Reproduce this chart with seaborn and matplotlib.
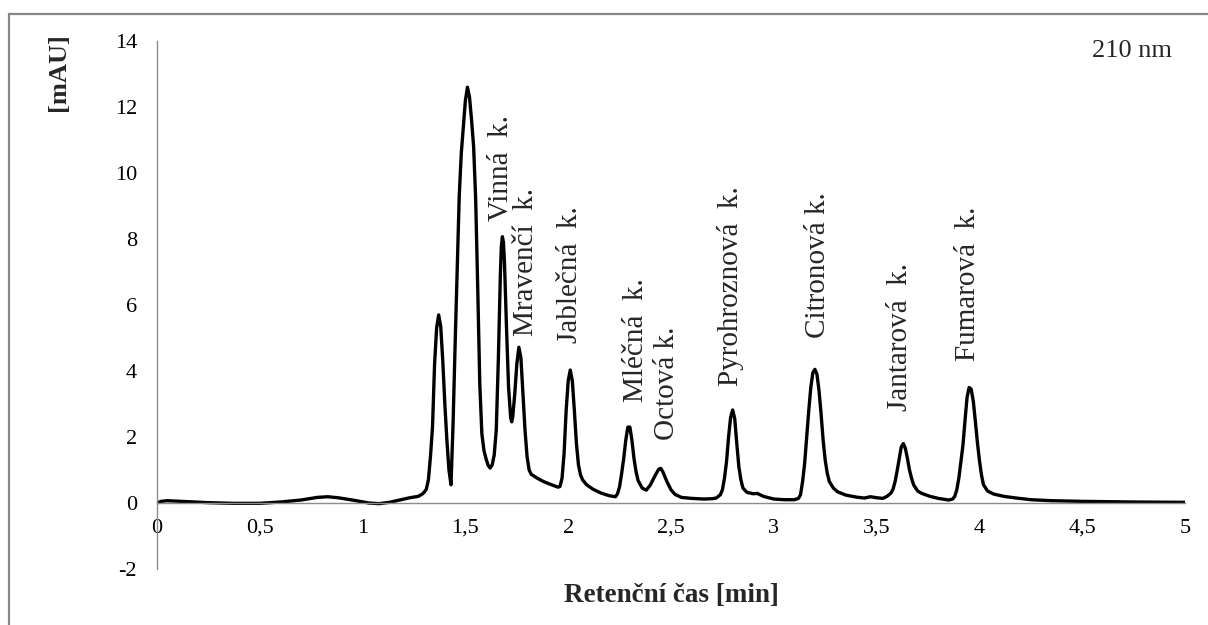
import matplotlib
matplotlib.use("Agg")
import matplotlib.pyplot as plt
from matplotlib.lines import Line2D
import seaborn as sns
import pandas as pd

# Chromatogram trace: retention time [min] and detector response [mAU]
retention_time = [
    0.00, 0.02, 0.05, 0.15, 0.25, 0.37, 0.50, 0.60, 0.70, 0.78, 0.83, 0.88,
    0.96, 1.03, 1.08, 1.13, 1.18, 1.23, 1.27, 1.29, 1.30, 1.31, 1.32, 1.33,
    1.34, 1.35, 1.36, 1.37, 1.38, 1.39, 1.40, 1.41, 1.42, 1.43, 1.44, 1.45,
    1.46, 1.47, 1.48, 1.49, 1.50, 1.51, 1.52, 1.53, 1.54, 1.55, 1.56, 1.57,
    1.58, 1.59, 1.60, 1.61, 1.62, 1.63, 1.64, 1.65, 1.66, 1.67, 1.675, 1.68,
    1.685, 1.69, 1.70, 1.71, 1.72, 1.725, 1.73, 1.74, 1.75, 1.76, 1.77, 1.78,
    1.79, 1.80, 1.81, 1.82, 1.85, 1.88, 1.92, 1.95, 1.96, 1.97, 1.98, 1.99,
    2.00, 2.01, 2.02, 2.03, 2.04, 2.05, 2.06, 2.07, 2.09, 2.12, 2.16, 2.20,
    2.23, 2.24, 2.25, 2.26, 2.27, 2.28, 2.29, 2.30, 2.31, 2.32, 2.33, 2.34,
    2.36, 2.38, 2.40, 2.42, 2.44, 2.45, 2.46, 2.48, 2.50, 2.52, 2.55, 2.60,
    2.66, 2.70, 2.72, 2.74, 2.75, 2.76, 2.77, 2.78, 2.79, 2.80, 2.81, 2.82,
    2.83, 2.84, 2.85, 2.87, 2.90, 2.92, 2.95, 3.00, 3.05, 3.10, 3.12, 3.13,
    3.14, 3.15, 3.16, 3.17, 3.18, 3.19, 3.20, 3.21, 3.22, 3.23, 3.24, 3.25,
    3.26, 3.27, 3.29, 3.31, 3.35, 3.40, 3.44, 3.47, 3.50, 3.53, 3.55, 3.57,
    3.58, 3.59, 3.60, 3.61, 3.62, 3.63, 3.64, 3.65, 3.66, 3.67, 3.68, 3.70,
    3.72, 3.76, 3.80, 3.85, 3.87, 3.88, 3.89, 3.90, 3.91, 3.92, 3.93, 3.94,
    3.95, 3.96, 3.97, 3.98, 3.99, 4.00, 4.01, 4.02, 4.04, 4.07, 4.12, 4.18,
    4.25, 4.35, 4.50, 4.75, 5.00,
]
response = [
    0.00, 0.05, 0.07, 0.04, 0.01, -0.01, -0.01, 0.03, 0.09, 0.17, 0.19, 0.16,
    0.08, 0.00, -0.02, 0.02, 0.09, 0.16, 0.20, 0.27, 0.33, 0.42, 0.70, 1.40,
    2.30, 4.20, 5.30, 5.70, 5.35, 4.30, 3.00, 1.90, 1.00, 0.55, 2.40, 4.80,
    7.06, 9.30, 10.60, 11.40, 12.20, 12.60, 12.30, 11.60, 10.80, 9.20, 6.50, 3.60,
    2.10, 1.60, 1.35, 1.15, 1.06, 1.15, 1.45, 2.20, 4.30, 6.90, 7.80, 8.07,
    7.90, 7.30, 5.30, 3.50, 2.60, 2.46, 2.60, 3.30, 4.20, 4.72, 4.40, 3.30,
    2.20, 1.40, 1.00, 0.87, 0.75, 0.65, 0.55, 0.48, 0.50, 0.75, 1.50, 2.80,
    3.70, 4.03, 3.70, 2.80, 1.80, 1.15, 0.85, 0.70, 0.55, 0.42, 0.30, 0.22,
    0.19, 0.28, 0.50, 0.90, 1.35, 1.90, 2.30, 2.30, 1.90, 1.35, 0.95, 0.68,
    0.45, 0.39, 0.55, 0.80, 1.02, 1.05, 0.95, 0.65, 0.40, 0.26, 0.17, 0.14,
    0.12, 0.13, 0.15, 0.25, 0.40, 0.75, 1.25, 2.00, 2.60, 2.82, 2.55, 1.80,
    1.10, 0.70, 0.45, 0.32, 0.28, 0.29, 0.20, 0.12, 0.10, 0.10, 0.14, 0.25,
    0.65, 1.20, 2.00, 2.80, 3.50, 3.95, 4.05, 3.90, 3.40, 2.70, 1.90, 1.30,
    0.90, 0.65, 0.45, 0.34, 0.24, 0.18, 0.15, 0.19, 0.16, 0.14, 0.20, 0.30,
    0.42, 0.65, 0.98, 1.35, 1.70, 1.80, 1.65, 1.35, 1.00, 0.75, 0.55, 0.36,
    0.29, 0.20, 0.14, 0.09, 0.12, 0.20, 0.40, 0.75, 1.25, 1.75, 2.50, 3.20,
    3.50, 3.45, 3.10, 2.50, 1.85, 1.30, 0.85, 0.55, 0.36, 0.27, 0.20, 0.15,
    0.10, 0.07, 0.05, 0.03, 0.02,
]

# Identified acids
peak_names = [
    "Vinná  k.", "Mravenčí  k.", "Jablečná  k.", "Mléčná  k.", "Octová k.",
    "Pyrohroznová  k.", "Citronová k.", "Jantarová  k.", "Fumarová  k.",
]
# Where each name sits (x centre, lower end of the rotated text) in data units
label_anchor = [
    (1.673, 8.55), (1.795, 5.05), (2.009, 4.85), (2.330, 3.05), (2.480, 1.90),
    (2.790, 3.55), (3.215, 5.00), (3.614, 2.80), (3.945, 4.30),
]

x_ticks = [0, 0.5, 1, 1.5, 2, 2.5, 3, 3.5, 4, 4.5, 5]
x_tick_labels = ["0", "0,5", "1", "1,5", "2", "2,5", "3", "3,5", "4", "4,5", "5"]
y_ticks = [-2, 0, 2, 4, 6, 8, 10, 12, 14]

sns.set_style("white")
plt.rcParams["font.family"] = ["Liberation Serif", "DejaVu Serif"]
plt.rcParams["axes.unicode_minus"] = False

W, H = 1208, 625
fig = plt.figure(figsize=(W / 100, H / 100), dpi=100)
ax = fig.add_axes([157 / W, 1 - 569 / H, (1185 - 157) / W, (569 - 41) / H])

df = pd.DataFrame({"t": retention_time, "mAU": response})
sns.lineplot(data=df, x="t", y="mAU", ax=ax, color="black", linewidth=2.4,
             estimator=None, sort=False)
for ln in ax.lines:
    ln.set_solid_joinstyle("round")
    ln.set_solid_capstyle("round")

ax.set_xlim(0, 5)
ax.set_ylim(-2, 14)

axis_grey = "#8c8c8c"
ax.spines["top"].set_visible(False)
ax.spines["right"].set_visible(False)
ax.spines["bottom"].set_position(("data", 0))
for side in ("left", "bottom"):
    ax.spines[side].set_color(axis_grey)
    ax.spines[side].set_linewidth(1.0)

ax.set_xticks(x_ticks)
ax.set_xticklabels(x_tick_labels)
ax.set_yticks(y_ticks)
ax.tick_params(axis="both", direction="out", length=4.5, width=1.0,
               color=axis_grey, labelsize=16, labelcolor="black")
ax.tick_params(axis="x", pad=7)
ax.tick_params(axis="y", pad=10)
ax.set_xlabel("")
ax.set_ylabel("")

for name, (lx, ly) in zip(peak_names, label_anchor):
    ax.text(lx, ly, name, rotation=90, ha="center", va="bottom", fontsize=21)

fig.text(1132 / W, 1 - 51 / H, "210 nm", ha="center", va="center", fontsize=19)
fig.text(671 / W, 1 - 595 / H, "Retenční čas [min]", ha="center", va="center",
         fontsize=19.5, fontweight="bold")
fig.text(58 / W, 1 - 72 / H, "[mAU]", ha="center", va="center", rotation=90,
         fontsize=19, fontweight="bold")

# Outer chart-area border
frame_grey = "#878787"
fig.add_artist(Line2D([9 / W, 1.0], [1 - 14 / H, 1 - 14 / H],
                      transform=fig.transFigure, color=frame_grey, linewidth=1.6))
fig.add_artist(Line2D([9 / W, 9 / W], [1 - 14 / H, 0.0],
                      transform=fig.transFigure, color=frame_grey, linewidth=1.6))

fig.savefig("out.png", dpi=100, facecolor="white")
